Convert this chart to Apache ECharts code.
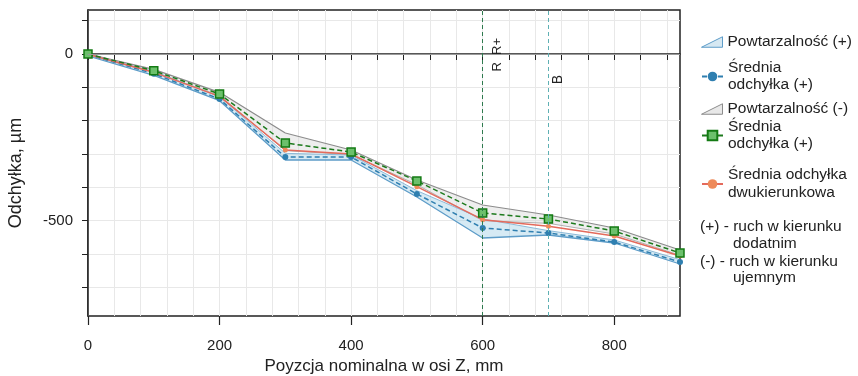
<!DOCTYPE html>
<html>
<head>
<meta charset="utf-8">
<script src="https://cdn.jsdelivr.net/npm/echarts@6/dist/echarts.min.js"></script>
<style>
  html, body { margin: 0; padding: 0; background: #ffffff; }
  #chart { width: 858px; height: 376px; }
</style>
</head>
<body>
<div id="chart"></div>
<script>
// Nominal positions along the Z axis, mm
const positions = [0, 100, 200, 300, 400, 500, 600, 700, 800, 900];

// Repeatability band, (+) direction (upper / lower limit), µm
const repPlusHi = [0, -52, -128, -298, -303, -410, -495, -530, -558, -617];
const repPlusLo = [-6, -64, -140, -318, -318, -429, -552, -543, -567, -630];

// Repeatability band, (-) direction (upper / lower limit), µm
const repMinusHi = [0, -46, -115, -237, -288, -378, -453, -483, -522, -588];
const repMinusLo = [-4, -55, -125, -290, -302, -392, -500, -508, -540, -604];

// Mean deviations, µm
const meanPlus = [-2, -59, -135, -309, -309, -420, -522, -537, -564, -624];
const meanMinus = [0, -50, -120, -267, -294, -381, -477, -495, -531, -597];
const meanBoth = [-1, -55, -127, -288, -300, -398, -497, -517, -546, -606];

// Axis ticks and labels
const xTicks = [0, 40, 80, 120, 160, 200, 240, 280, 320, 360, 400, 440, 480, 520, 560, 600, 640, 680, 720, 760, 800, 840, 880];
const xMajorTicks = [0, 200, 400, 600, 800];
const xLabels = [0, 200, 400, 600, 800];
const yTicks = [100, 0, -100, -200, -300, -400, -500, -600, -700];
const yLabels = [0, -500];

// Reference positions marked on the axis
const refR = 600;
const refB = 700;

const pairs = (ys) => positions.map((x, i) => [x, ys[i]]);

// One band segment per interval: [x0, hi0, lo0, x1, hi1, lo1]
const bandSegments = (hi, lo) => positions.slice(0, -1).map((x, i) =>
  [x, hi[i], lo[i], positions[i + 1], hi[i + 1], lo[i + 1]]);

const FONT = "'Liberation Sans', Arial, sans-serif";
const LEGEND_FONT = 15.5;

const legendText = {
  'Powtarzalność (+)': 'Powtarzalność (+)',
  'Średnia odchyłka (+)': 'Średnia\nodchyłka (+)',
  'Powtarzalność (-)': 'Powtarzalność (-)',
  'Średnia odchyłka (-)': 'Średnia\nodchyłka (+)',
  'Średnia odchyłka dwukierunkowa': 'Średnia odchyłka\ndwukierunkowa'
};

function legendEntry(name, top, extra, lineHeight) {
  return Object.assign({
    left: 701,
    top: top,
    orient: 'vertical',
    padding: 0,
    itemWidth: 21,
    itemHeight: 12,
    selectedMode: false,
    textStyle: { fontFamily: FONT, fontSize: LEGEND_FONT, color: '#222', lineHeight: lineHeight || 17 },
    formatter: (n) => legendText[n],
    data: [name]
  }, extra || {});
}

const wedge = 'path://M0,12 L20,2 L20,12 Z';

function bandRenderer(fill) {
  return function (params, api) {
    const a = api.coord([api.value(0), api.value(1)]);
    const b = api.coord([api.value(3), api.value(4)]);
    const c = api.coord([api.value(3), api.value(5)]);
    const d = api.coord([api.value(0), api.value(2)]);
    return {
      type: 'polygon',
      shape: { points: [a, b, c, d] },
      style: { fill: fill, stroke: null }
    };
  };
}

const chart = echarts.init(document.getElementById('chart'), null, { renderer: 'canvas' });

chart.setOption({
  animation: false,
  backgroundColor: '#ffffff',
  grid: {
    left: 88, right: 178, top: 10, bottom: 60,
    outerBoundsMode: 'none', containLabel: false,
    show: true, borderColor: '#222', borderWidth: 1.5, backgroundColor: 'transparent'
  },
  legend: [
    legendEntry('Powtarzalność (+)', 33.5, {
      data: [{ name: 'Powtarzalność (+)', icon: wedge,
        itemStyle: { color: '#d6e8f2', borderColor: '#5d9cc8', borderWidth: 1 } }]
    }),
    legendEntry('Średnia odchyłka (+)', 59.5),
    legendEntry('Powtarzalność (-)', 100.5, {
      data: [{ name: 'Powtarzalność (-)', icon: wedge,
        itemStyle: { color: '#e8e8e8', borderColor: '#8c8c8c', borderWidth: 1 } }]
    }),
    legendEntry('Średnia odchyłka (-)', 118.5),
    legendEntry('Średnia odchyłka dwukierunkowa', 166, null, 18)
  ],
  graphic: [
    { type: 'text', left: 700, top: 219, style: { text: '(+) - ruch w kierunku', font: LEGEND_FONT + 'px ' + FONT, fill: '#222' } },
    { type: 'text', left: 733, top: 236, style: { text: 'dodatnim', font: LEGEND_FONT + 'px ' + FONT, fill: '#222' } },
    { type: 'text', left: 700, top: 254, style: { text: '(-) - ruch w kierunku', font: LEGEND_FONT + 'px ' + FONT, fill: '#222' } },
    { type: 'text', left: 733, top: 270, style: { text: 'ujemnym', font: LEGEND_FONT + 'px ' + FONT, fill: '#222' } }
  ],
  xAxis: [
    {
      type: 'value', min: 0, max: 900,
      name: 'Poyzcja nominalna w osi Z, mm',
      nameLocation: 'middle', nameGap: 42,
      nameTextStyle: { fontFamily: FONT, fontSize: 17, color: '#222' },
      axisLine: { show: true, lineStyle: { color: '#222', width: 1.5 } },
      axisTick: { show: true, customValues: xTicks, length: 6, lineStyle: { color: '#222', width: 1 } },
      axisLabel: { customValues: xLabels, margin: 22, fontFamily: FONT, fontSize: 15, color: '#222' },
      splitLine: { show: true, lineStyle: { color: '#e8e8e8', width: 1 } }
    },
    {
      type: 'value', min: 0, max: 900, position: 'bottom',
      axisLine: { show: false },
      axisTick: { show: true, customValues: xMajorTicks, length: 9, lineStyle: { color: '#222', width: 1.2 } },
      axisLabel: { show: false },
      splitLine: { show: false }
    }
  ],
  yAxis: {
    type: 'value', min: -786, max: 132,
    name: 'Odchyłka, µm',
    nameLocation: 'middle', nameGap: 63,
    nameTextStyle: { fontFamily: FONT, fontSize: 18, color: '#222', padding: [0, 20, 0, 0] },
    axisLine: { show: true, lineStyle: { color: '#222', width: 1.5 } },
    axisTick: { show: true, customValues: yTicks, length: 6, lineStyle: { color: '#222', width: 1 } },
    axisLabel: { customValues: yLabels, margin: 15, fontFamily: FONT, fontSize: 15, color: '#222' },
    splitLine: { show: true, lineStyle: { color: '#e8e8e8', width: 1 } }
  },
  series: [
    // Repeatability bands (filled areas between the limits)
    {
      name: 'Powtarzalność (-)', type: 'custom', z: 1,
      data: bandSegments(repMinusHi, repMinusLo),
      encode: { x: [0, 3], y: [1, 2, 4, 5] },
      itemStyle: { color: '#9a9a9a' },
      renderItem: bandRenderer('rgba(205, 205, 205, 0.35)')
    },
    {
      name: 'Powtarzalność (+)', type: 'custom', z: 1,
      data: bandSegments(repPlusHi, repPlusLo),
      encode: { x: [0, 3], y: [1, 2, 4, 5] },
      itemStyle: { color: '#5d9cc8' },
      renderItem: bandRenderer('rgba(165, 208, 230, 0.45)')
    },
    // Band limits
    { name: 'Powtarzalność (-) górna', type: 'line', data: pairs(repMinusHi), symbol: 'none', z: 2,
      lineStyle: { color: '#8c8c8c', width: 1.2 } },
    { name: 'Powtarzalność (-) dolna', type: 'line', data: pairs(repMinusLo), symbol: 'none', z: 2,
      lineStyle: { color: '#b0b0b0', width: 1 } },
    { name: 'Powtarzalność (+) górna', type: 'line', data: pairs(repPlusHi), symbol: 'none', z: 2,
      lineStyle: { color: '#8dbad8', width: 1 } },
    { name: 'Powtarzalność (+) dolna', type: 'line', data: pairs(repPlusLo), symbol: 'none', z: 2,
      lineStyle: { color: '#5d9cc8', width: 1.3 } },
    // Mean deviations
    {
      name: 'Średnia odchyłka (+)', type: 'line', data: pairs(meanPlus), z: 3,
      symbol: 'circle', symbolSize: 6,
      itemStyle: { color: '#2f7fb0' },
      lineStyle: { color: '#2f7fb0', width: 1.5, type: [5, 3] }
    },
    {
      name: 'Średnia odchyłka dwukierunkowa', type: 'line', data: pairs(meanBoth), z: 3,
      symbol: 'circle', symbolSize: 5,
      itemStyle: { color: '#ee8a5a' },
      lineStyle: { color: '#e46a5c', width: 1.5 },
      markLine: {
        silent: true, symbol: ['none', 'none'], animation: false,
        data: [
          { yAxis: 0, lineStyle: { color: '#9a9a9a', type: 'solid', width: 1 }, label: { show: false } },
          {
            xAxis: refR, lineStyle: { color: '#2e7a4e', type: [4, 3], width: 1 },
            label: { show: true, formatter: 'R  R+', position: 'insideEndBottom', distance: 8,
              padding: [0, 20, 0, 0], fontFamily: FONT, fontSize: 13, color: '#222' }
          },
          {
            xAxis: refB, lineStyle: { color: '#5fb0b4', type: [4, 3], width: 1 },
            label: { show: true, formatter: 'B', position: 'insideEndBottom', distance: 3,
              padding: [0, 62, 0, 0], fontFamily: FONT, fontSize: 14, color: '#222' }
          }
        ]
      }
    },
    {
      name: 'Średnia odchyłka (-)', type: 'line', data: pairs(meanMinus), z: 4,
      symbol: 'rect', symbolSize: 8,
      itemStyle: { color: '#6cc06c', borderColor: '#137a13', borderWidth: 1.5 },
      lineStyle: { color: '#1d7a1d', width: 1.5, type: [5, 3] }
    }
  ]
});
</script>
</body>
</html>
